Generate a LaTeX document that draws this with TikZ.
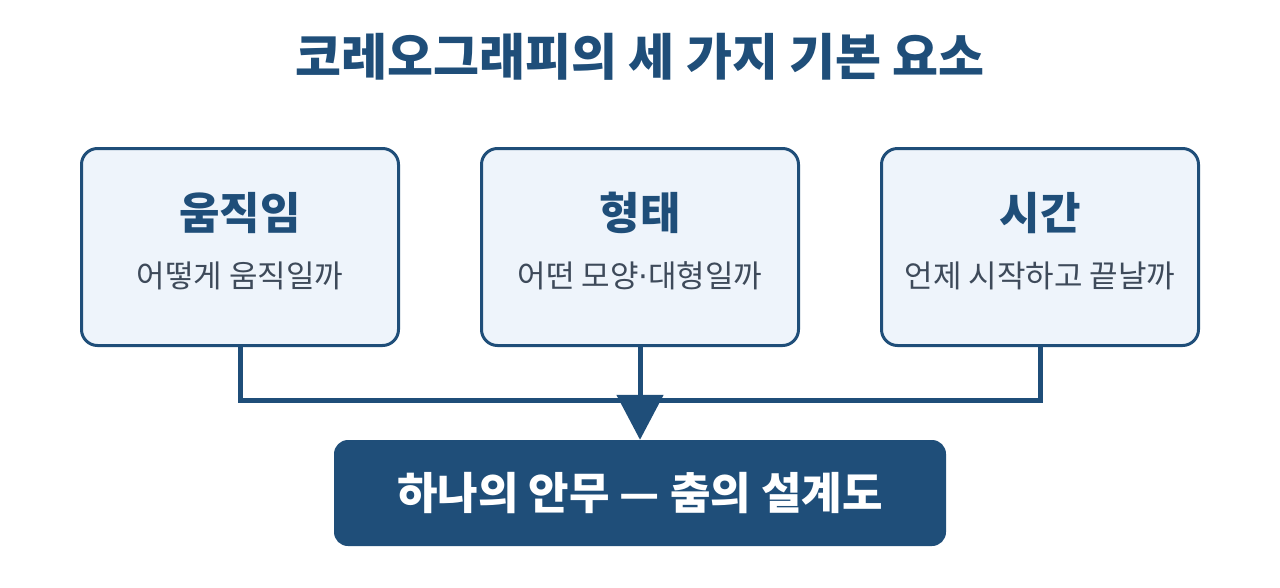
\documentclass[tikz,border=0pt]{standalone}
\usepackage{fontspec}
\setmainfont{Noto Sans CJK KR}
\newfontfamily\dotfont{DejaVu Sans}
\usetikzlibrary{arrows.meta}
\definecolor{navy}{HTML}{1F4E79}
\definecolor{pale}{HTML}{EEF4FB}
\definecolor{ink}{HTML}{3E4A5A}

\begin{document}
\begin{tikzpicture}[x=1pt, y=-1pt,
    card/.style={draw=navy, line width=3pt, fill=pale, rounded corners=16pt,
                 minimum width=317pt, minimum height=197pt, inner sep=0pt},
    head/.style={text=navy, font=\fontsize{44}{50}\selectfont\bfseries, inner sep=0pt},
    sub/.style={text=ink, font=\fontsize{31}{36}\selectfont, inner sep=0pt},
    link/.style={draw=navy, line width=5pt}]

\useasboundingbox (0,0) rectangle (1280,587)			;

%%%%------------Tittel----------------%%
\node [text=navy, font=\fontsize{50}{56}\selectfont\bfseries] (title) at (640,57) {코레오그래피의 세 가지 기본 요소} ;

%%%%------------Bokser----------------%%
\node [card] (mov) at (240,247) {}						;
\node [head] (movh) at (240,213) {움직임}				;
\node [sub]  (movs) at (240,276) {어떻게 움직일까}		;

\node [card] (shp) at (640,247) {}						;
\node [head] (shph) at (640,213) {형태}					;
\node [sub]  (shps) at (640,276) {어떤 모양{\dotfont ·}대형일까} ;

\node [card] (tim) at (1040,247) {}						;
\node [head] (timh) at (1040,213) {시간}				;
\node [sub]  (tims) at (1040,276) {언제 시작하고 끝날까}	;

%%%%------------Resultat----------------%%
\node [fill=navy, rounded corners=14pt, minimum width=612pt, minimum height=106pt,
       text=white, font=\fontsize{44}{50}\selectfont\bfseries] (dance) at (640,493) {하나의 안무 — 춤의 설계도} ;

%%%-------------Linjer-------------%%%
\coordinate (join) at (640,400)							;
\draw [link] (mov.south) -- (mov.south |- join) -- (tim.south |- join) -- (tim.south) ;
\draw [link, -{Triangle[length=45pt, width=46pt]}] (shp.south) -- (dance.north) ;

\end{tikzpicture}
\end{document}
